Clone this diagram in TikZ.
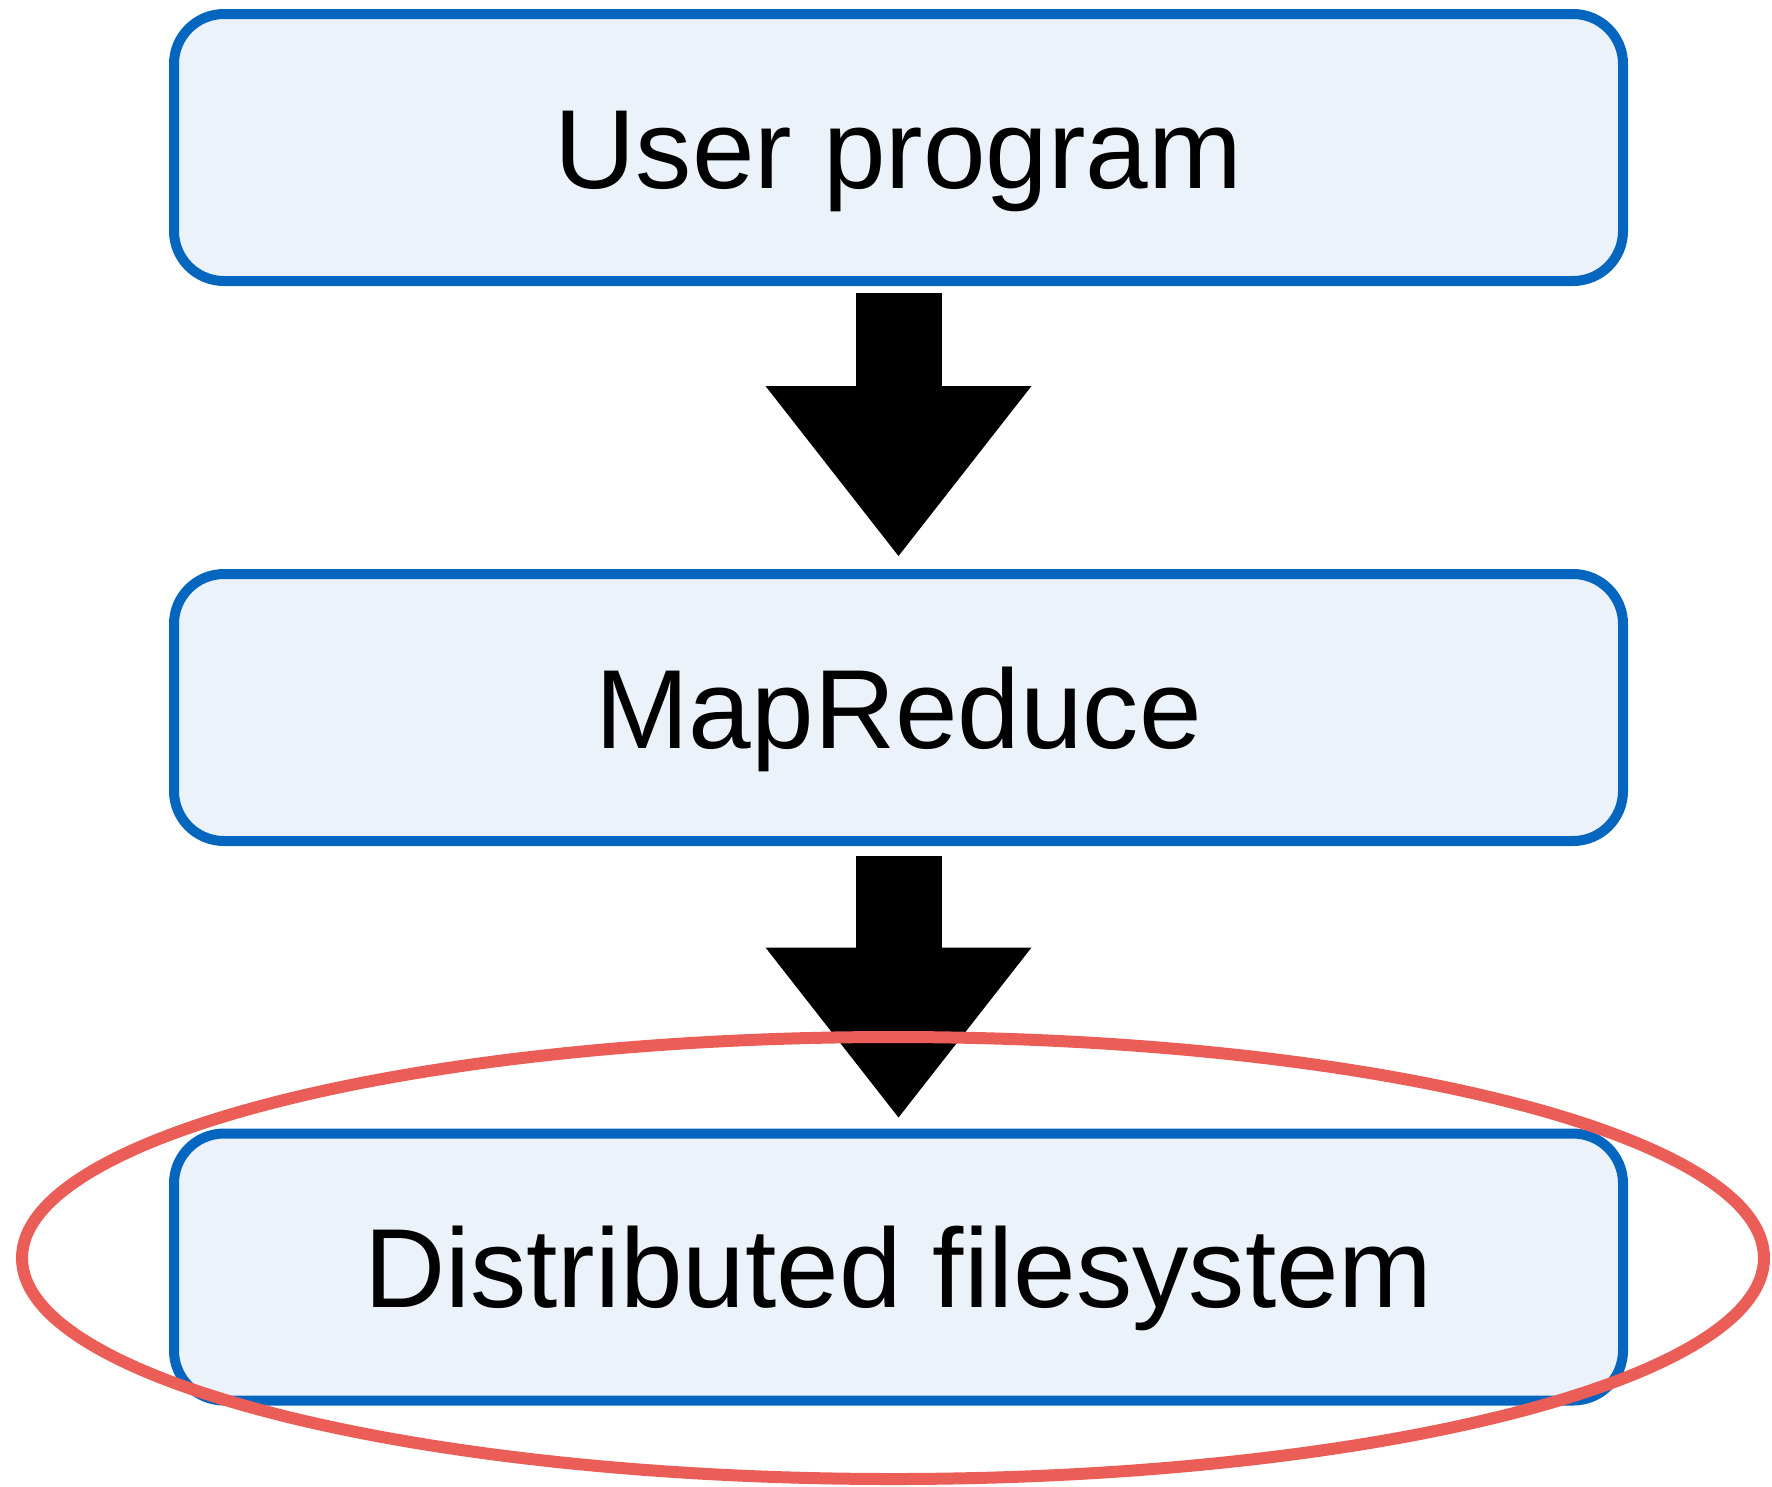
\documentclass[tikz,border=0pt]{standalone}
\usepackage{fontspec}
\setmainfont{Liberation Sans}
\usetikzlibrary{arrows.meta}

\definecolor{layerblue}{RGB}{5,102,192}
\definecolor{layerfill}{RGB}{235,242,250}
\definecolor{markred}{RGB}{235,94,88}

\begin{document}
\begin{tikzpicture}[
  layer/.style={draw=layerblue,fill=layerfill,line width=0.1cm,rounded corners=0.5cm,
    minimum width=14.49cm,minimum height=2.67cm,text height=0.81cm,text depth=0pt,
    font=\fontsize{32}{38}\selectfont},
  flow/.style={line width=0.86cm,-{Triangle[length=1.7cm,width=2.66cm,line width=0pt]}}]
\useasboundingbox (0,0) rectangle (17.72,-14.86);
\draw node[layer] (user) at (8.985,-1.475) {User program};
\draw node[layer] (mr) at (8.985,-7.075) {MapReduce};
\draw node[layer] (dfs) at (8.985,-12.67) {Distributed filesystem};
\draw[flow] ([yshift=-0.07cm]user.south) -- ([yshift=0.13cm]mr.north);
\draw[flow] ([yshift=-0.1cm]mr.south) -- ([yshift=0.11cm]dfs.north);
% highlight round the filesystem layer
\draw[markred,line width=0.12cm] (8.93,-12.58) ellipse [x radius=8.71cm,y radius=2.21cm];
\end{tikzpicture}
\end{document}
